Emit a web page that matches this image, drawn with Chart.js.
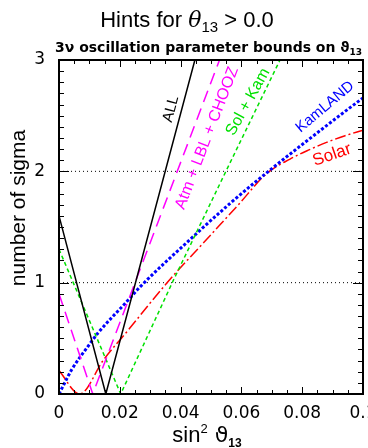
<!DOCTYPE html>
<html>
<head>
<meta charset="utf-8">
<script src="https://cdn.jsdelivr.net/npm/chart.js@4"></script>
<style>
  html, body { margin: 0; padding: 0; background: #fff; }
  #wrap { width: 368px; height: 448px; position: relative; }
</style>
</head>
<body>
<div id="wrap"><canvas id="chart"></canvas></div>
<script>
// values (x = sin^2 theta13, y = number of sigma)
const allX = [0, 0.0154, 0.0447];
const allY = [1.6, 0, 3];
const atmX = [0, 0.0111, 0.0528];
const atmY = [0.9, 0, 3];
const solKamX = [0, 0.0203, 0.0376, 0.0549, 0.0727];
const solKamY = [1.3, 0, 1.02, 2.0, 3];
const kamX = [0, 0.0015, 0.0042, 0.0096, 0.0129, 0.0223, 0.0266, 0.0436, 0.0562, 0.0689, 0.0913, 0.1];
const kamY = [0, 0.08, 0.22, 0.43, 0.55, 0.83, 0.96, 1.4, 1.71, 2.0, 2.48, 2.66];
const solarX = [0, 0.0068, 0.0146, 0.0228, 0.0354, 0.0486, 0.059, 0.0683, 0.076, 0.082, 0.088, 0.0941, 0.1];
const solarY = [0.21, 0, 0.305, 0.575, 0.995, 1.39, 1.7, 1.98, 2.11, 2.19, 2.26, 2.32, 2.37];
const sigmaLines = [1, 2];
const xRange = [0, 0.1];
const yRange = [0, 3];

const pts = (xs, ys) => xs.map((x, i) => ({ x: x, y: ys[i] }));

// curve labels, placed along each curve
const curveLabels = [
  { text: "ALL", color: "#000", x: 171, y: 109, angle: -75, size: 15 },
  { text: "Atm + LBL + CHOOZ", color: "#ff00ff", x: 207, y: 138, angle: -69, size: 16 },
  { text: "Sol + Kam", color: "#00e000", x: 248, y: 102, angle: -61, size: 16 },
  { text: "KamLAND", color: "#0000ff", x: 325, y: 107, angle: -40, size: 15 },
  { text: "Solar", color: "#ff0000", x: 332, y: 155, angle: -19, size: 17 },
];

// draws text pieces one after another (for sub/superscripts)
function richText(ctx, parts, x, y, align) {
  let w = 0;
  parts.forEach((p) => { ctx.font = p.font; w += ctx.measureText(p.t).width; });
  let cx = align === "center" ? x - w / 2 : x;
  ctx.textAlign = "left";
  ctx.textBaseline = "alphabetic";
  parts.forEach((p) => {
    ctx.font = p.font;
    ctx.fillText(p.t, cx, y + (p.dy || 0));
    cx += ctx.measureText(p.t).width;
  });
}

const decor = {
  id: "decor",
  afterDraw(chart) {
    const ctx = chart.ctx;
    const a = chart.chartArea;
    const xs = chart.scales.x, ys = chart.scales.y;
    ctx.save();
    ctx.fillStyle = "#000";
    ctx.strokeStyle = "#000";

    // inward ticks on all four sides
    ctx.lineWidth = 1;
    ctx.beginPath();
    for (let i = 0; i <= 20; i++) {
      const v = i * 0.005;
      const px = Math.round(xs.getPixelForValue(v)) + 0.5;
      const len = i % 4 === 0 ? 7 : 4;
      ctx.moveTo(px, a.bottom); ctx.lineTo(px, a.bottom - len);
      ctx.moveTo(px, a.top); ctx.lineTo(px, a.top + len);
    }
    for (let i = 0; i <= 30; i++) {
      const v = i * 0.1;
      const py = Math.round(ys.getPixelForValue(v)) + 0.5;
      const len = i % 10 === 0 ? 10 : 5;
      ctx.moveTo(a.left, py); ctx.lineTo(a.left + len, py);
      ctx.moveTo(a.right, py); ctx.lineTo(a.right - len, py);
    }
    ctx.stroke();

    // frame
    ctx.lineWidth = 2;
    ctx.strokeRect(a.left, a.top, a.right - a.left, a.bottom - a.top);

    // curve labels
    curveLabels.forEach((l) => {
      ctx.save();
      ctx.translate(l.x, l.y);
      ctx.rotate(l.angle * Math.PI / 180);
      ctx.fillStyle = l.color;
      ctx.font = l.size + "px 'Liberation Sans', Arial, sans-serif";
      ctx.textAlign = "center";
      ctx.textBaseline = "middle";
      ctx.fillText(l.text, 0, 0);
      ctx.restore();
    });

    // title
    const tf = "'Liberation Sans', Arial, sans-serif";
    richText(ctx, [
      { t: "Hints for ", font: "22px " + tf },
      { t: "\u03b8", font: "italic 22px 'DejaVu Serif', serif" },
      { t: "13", font: "15px " + tf, dy: 5 },
      { t: " > 0.0", font: "22px " + tf },
    ], 187, 27, "center");

    // subtitle
    const sf = "bold 14px 'DejaVu Sans', sans-serif";
    richText(ctx, [
      { t: "3\u03bd oscillation parameter bounds on ", font: sf },
      { t: "\u03d1", font: sf },
      { t: "13", font: "bold 9px 'DejaVu Sans', sans-serif", dy: 3 },
    ], 55, 52, "left");

    // x axis title
    const xf = "'Liberation Sans', Arial, sans-serif";
    richText(ctx, [
      { t: "sin", font: "22px " + xf },
      { t: "2", font: "13px " + xf, dy: -9 },
      { t: " \u03d1", font: "22px 'DejaVu Sans', sans-serif" },
      { t: "13", font: "bold 12px " + xf, dy: 5 },
    ], 207, 442, "center");

    // y axis title
    ctx.save();
    ctx.translate(19, 208);
    ctx.rotate(-Math.PI / 2);
    ctx.font = "21px 'Liberation Sans', Arial, sans-serif";
    ctx.textAlign = "center";
    ctx.textBaseline = "middle";
    ctx.fillText("number of sigma", 0, 0);
    ctx.restore();

    ctx.restore();
  },
};

const lineDs = (label, data, color, width, dash, smooth) => ({
  label: label,
  data: data,
  borderColor: color,
  borderWidth: width,
  borderDash: dash,
  pointRadius: 0,
  fill: false,
  tension: 0,
  cubicInterpolationMode: smooth ? "monotone" : "default",
});

new Chart(document.getElementById("chart"), {
  type: "line",
  data: {
    datasets: [
      lineDs("ALL", pts(allX, allY), "#000000", 1.5, [], false),
      lineDs("Atm + LBL + CHOOZ", pts(atmX, atmY), "#ff00ff", 1.5, [12, 7], false),
      lineDs("Sol + Kam", pts(solKamX, solKamY), "#00e000", 1.5, [4, 3], false),
      lineDs("KamLAND", pts(kamX, kamY), "#0000ff", 3, [3, 2], true),
      lineDs("Solar", pts(solarX, solarY), "#ff0000", 1.5, [11, 3, 2, 3], true),
      ...sigmaLines.map((s) =>
        lineDs(s + " sigma", pts(xRange, [s, s]), "#000000", 1, [1, 3], false)
      ),
    ],
  },
  options: {
    responsive: true,
    maintainAspectRatio: false,
    animation: false,
    layout: { padding: { top: 60, right: 5, left: 0, bottom: 0 } },
    plugins: {
      legend: { display: false },
      tooltip: { enabled: false },
    },
    scales: {
      x: {
        type: "linear",
        min: xRange[0],
        max: xRange[1],
        grid: { display: false },
        border: { display: false },
        ticks: {
          stepSize: 0.02,
          color: "#000",
          padding: 1,
          maxRotation: 0,
          font: { family: "'DejaVu Sans', sans-serif", size: 17 },
          callback: (v) => (v === 0 ? "0" : String(+v.toFixed(2))),
        },
        afterFit: (scale) => {
          scale.height = 54;
          scale.paddingLeft = 0;
          scale.paddingRight = 0;
        },
      },
      y: {
        min: yRange[0],
        max: yRange[1],
        grid: { display: false },
        border: { display: false },
        ticks: {
          stepSize: 1,
          color: "#000",
          padding: 6,
          font: { family: "'DejaVu Sans', sans-serif", size: 17 },
        },
        afterFit: (scale) => {
          scale.width = 59;
          scale.paddingTop = 0;
          scale.paddingBottom = 0;
        },
      },
    },
  },
  plugins: [decor],
});
</script>
</body>
</html>
